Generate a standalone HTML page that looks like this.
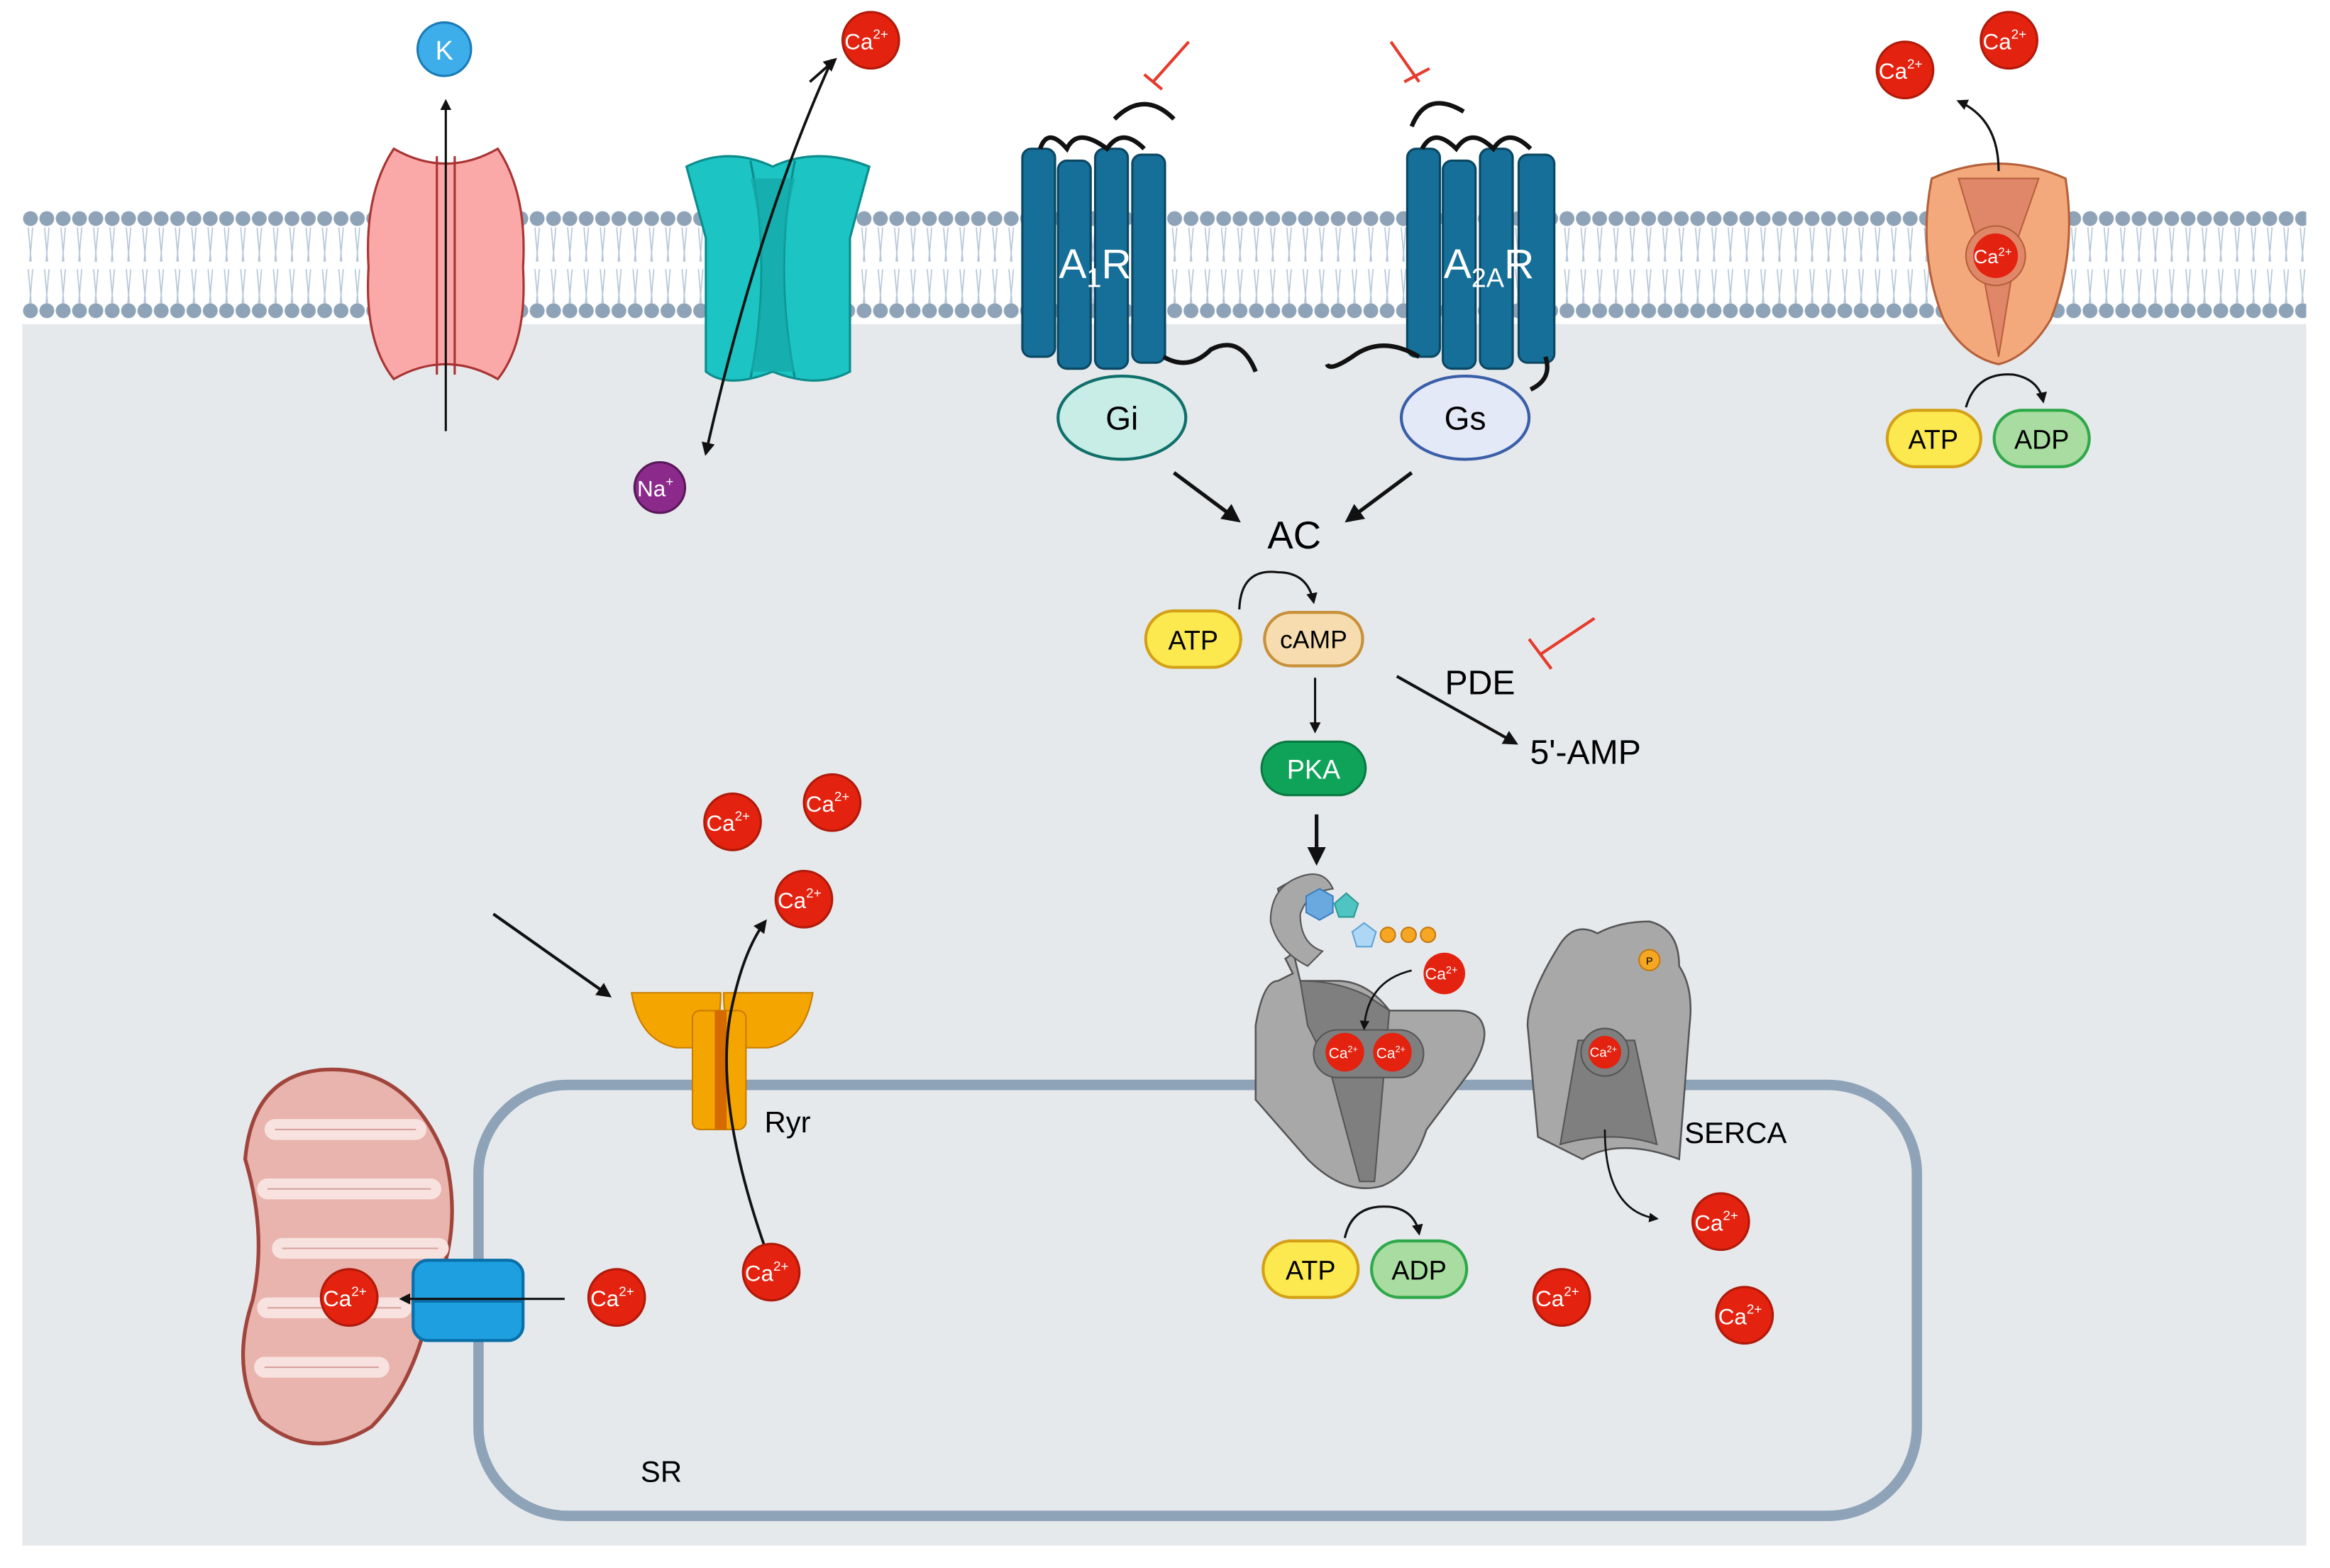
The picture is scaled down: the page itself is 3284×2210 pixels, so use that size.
<!DOCTYPE html>
<html><head><meta charset="utf-8"><style>
html,body{margin:0;padding:0;background:#fff}
svg{display:block}
text{font-family:"Liberation Sans",sans-serif}
</style></head><body>
<svg width="3284" height="2210" viewBox="0 0 1568 1055" xmlns="http://www.w3.org/2000/svg">
<defs>
<pattern id="dots" x="15" y="0" width="11" height="1055" patternUnits="userSpaceOnUse">
<circle cx="5.5" cy="147" r="5" fill="#8fa3b8"/>
<circle cx="5.5" cy="209" r="5" fill="#8fa3b8"/>
<path d="M4 153 L6 176 M7 153 L5 176 M4 181 L6 204 M7 181 L5 204" stroke="#b5c6d8" stroke-width="0.8" fill="none"/>
</pattern>
<marker id="ah" viewBox="0 0 10 10" refX="8" refY="5" markerWidth="5" markerHeight="5" orient="auto"><path d="M0 0 L10 5 L0 10z" fill="#111"/></marker>
<g id="ca"><circle r="19" fill="#e3220f" stroke="#b01a0a" stroke-width="1.5"/><text x="-3" y="6" font-size="15" fill="#fff" text-anchor="middle">Ca<tspan font-size="9" dy="-7">2+</tspan></text></g>
</defs>
<rect x="15" y="140" width="1537" height="900" fill="#e6e9ec"/>
<rect x="15" y="138" width="1537" height="80" fill="#fff"/>
<rect x="15" y="138" width="1537" height="80" fill="url(#dots)"/>

<!-- SR -->
<rect x="322" y="730" width="968" height="290" rx="60" fill="none" stroke="#8fa3b8" stroke-width="7"/>
<text x="445" y="997" font-size="20" text-anchor="middle">SR</text>

<!-- K channel -->
<path d="M265 100 Q300 120 335 100 Q355 130 352 180 Q355 230 335 255 Q300 235 265 255 Q245 230 248 180 Q245 130 265 100z" fill="#fba8a8" stroke="#a33" stroke-width="1.5"/>
<path d="M294 105 V252 M306 105 V252" stroke="#a33" stroke-width="1.5"/>
<line x1="300" y1="290" x2="300" y2="68" stroke="#111" stroke-width="1.5" marker-end="url(#ah)"/>
<circle cx="299" cy="33" r="18" fill="#3daee9" stroke="#1a7ab5" stroke-width="1.5"/>
<text x="299" y="40" font-size="18" fill="#fff" text-anchor="middle">K</text>

<!-- NCX -->
<path d="M462 112 Q490 98 520 112 Q550 98 585 112 L572 160 L572 250 Q550 262 520 250 Q490 262 475 250 L475 160z" fill="#1cc4c4" stroke="#0c8c8c" stroke-width="1.5"/>
<path d="M505 108 Q520 180 505 255 M535 108 Q520 180 535 255" stroke="#0c8c8c" fill="none" stroke-width="1.5"/>
<path d="M505 120 Q520 180 505 250 L535 250 Q520 180 535 120z" fill="#15a9a9" opacity="0.8"/>
<path d="M560 40 Q510 150 475 305" stroke="#111" stroke-width="1.8" fill="none" marker-end="url(#ah)"/>
<path d="M545 55 L562 40" stroke="#111" stroke-width="1.8" marker-end="url(#ah)"/>
<use href="#ca" x="586" y="27"/>
<circle cx="444" cy="328" r="17" fill="#8b2a8b" stroke="#5a185a" stroke-width="1.5"/>
<text x="441" y="334" font-size="15" fill="#fff" text-anchor="middle">Na<tspan font-size="9" dy="-7">+</tspan></text>

<!-- A1R -->
<g fill="#156f99" stroke="#0b4763" stroke-width="1.5">
<rect x="688" y="100" width="22" height="140" rx="6"/>
<rect x="712" y="108" width="22" height="140" rx="6"/>
<rect x="737" y="100" width="22" height="148" rx="6"/>
<rect x="762" y="104" width="22" height="140" rx="6"/>
</g>
<path d="M700 100 Q705 85 718 100 Q725 85 745 100 Q755 85 770 100 M750 80 Q770 60 790 80 M783 240 Q800 250 815 235 Q835 225 845 250" stroke="#111" stroke-width="3" fill="none"/>
<text x="737" y="187" font-size="28" fill="#fff" text-anchor="middle">A<tspan font-size="18" dy="6">1</tspan><tspan dy="-6">R</tspan></text>
<ellipse cx="755" cy="281" rx="43" ry="28" fill="#c8ece6" stroke="#0f6f6a" stroke-width="2"/>
<text x="755" y="289" font-size="22" text-anchor="middle">Gi</text>
<path d="M776 55 L800 28 M770 50 L782 60" stroke="#e53b2c" stroke-width="2"/>

<!-- A2AR -->
<g fill="#156f99" stroke="#0b4763" stroke-width="1.5">
<rect x="947" y="100" width="22" height="140" rx="6"/>
<rect x="971" y="108" width="22" height="140" rx="6"/>
<rect x="996" y="100" width="22" height="148" rx="6"/>
<rect x="1022" y="104" width="24" height="140" rx="6"/>
</g>
<path d="M957 100 Q965 85 980 100 Q990 85 1005 100 Q1015 85 1030 100 M950 85 Q960 60 985 75 M955 240 Q930 225 910 240 Q895 250 893 245 M1040 240 Q1045 255 1030 262" stroke="#111" stroke-width="3" fill="none"/>
<text x="1002" y="187" font-size="28" fill="#fff" text-anchor="middle">A<tspan font-size="18" dy="6">2A</tspan><tspan dy="-6">R</tspan></text>
<ellipse cx="986" cy="281" rx="43" ry="28" fill="#e4e9f8" stroke="#3a5fa8" stroke-width="2"/>
<text x="986" y="289" font-size="22" text-anchor="middle">Gs</text>
<path d="M936 28 L955 55 M945 55 L962 46" stroke="#e53b2c" stroke-width="2"/>

<!-- AC cascade -->
<line x1="790" y1="318" x2="833" y2="350" stroke="#111" stroke-width="2.5" marker-end="url(#ah)"/>
<line x1="950" y1="318" x2="907" y2="350" stroke="#111" stroke-width="2.5" marker-end="url(#ah)"/>
<text x="871" y="369" font-size="26" text-anchor="middle">AC</text>
<rect x="771" y="411" width="64" height="38" rx="19" fill="#fbe94f" stroke="#d4a017" stroke-width="2"/>
<text x="803" y="437" font-size="18" text-anchor="middle">ATP</text>
<rect x="851" y="412" width="66" height="36" rx="18" fill="#f6dcaf" stroke="#c8913a" stroke-width="2"/>
<text x="884" y="436" font-size="17" text-anchor="middle">cAMP</text>
<path d="M834 410 Q835 382 860 385 Q880 385 884 405" stroke="#111" stroke-width="1.5" fill="none" marker-end="url(#ah)"/>
<line x1="885" y1="456" x2="885" y2="492" stroke="#111" stroke-width="1.5" marker-end="url(#ah)"/>
<rect x="849" y="499" width="70" height="36" rx="18" fill="#0fa35a" stroke="#0a7a42" stroke-width="1.5"/>
<text x="884" y="524" font-size="18" fill="#fff" text-anchor="middle">PKA</text>
<line x1="886" y1="548" x2="886" y2="580" stroke="#111" stroke-width="2.5" marker-end="url(#ah)"/>
<line x1="940" y1="455" x2="1020" y2="500" stroke="#111" stroke-width="2" marker-end="url(#ah)"/>
<text x="996" y="467" font-size="23" text-anchor="middle">PDE</text>
<text x="1067" y="514" font-size="23" text-anchor="middle">5'-AMP</text>
<path d="M1073 416 L1037 440 M1029 430 L1044 450" stroke="#e53b2c" stroke-width="2"/>

<!-- PMCA -->
<path d="M1300 120 Q1345 100 1390 120 Q1398 170 1380 215 Q1365 240 1345 245 Q1322 240 1308 215 Q1290 170 1300 120z" fill="#f4a97c" stroke="#b5613a" stroke-width="1.5"/>
<path d="M1318 120 L1330 160 L1345 240 L1358 160 L1372 120z" fill="#e0876a" stroke="#b5613a"/>
<circle cx="1343" cy="172" r="20" fill="#e0876a" stroke="#b5613a"/>
<circle cx="1343" cy="172" r="15" fill="#e3220f"/>
<text x="1341" y="177" font-size="13" fill="#fff" text-anchor="middle">Ca<tspan font-size="8" dy="-5">2+</tspan></text>
<path d="M1345 115 Q1345 80 1318 68" stroke="#111" stroke-width="1.5" fill="none" marker-end="url(#ah)"/>
<use href="#ca" x="1282" y="47"/><use href="#ca" x="1352" y="27"/>
<rect x="1270" y="276" width="63" height="38" rx="19" fill="#fbe94f" stroke="#d4a017" stroke-width="2"/>
<text x="1301" y="302" font-size="18" text-anchor="middle">ATP</text>
<rect x="1342" y="276" width="64" height="38" rx="19" fill="#a8dca0" stroke="#2fa84a" stroke-width="2"/>
<text x="1374" y="302" font-size="18" text-anchor="middle">ADP</text>
<path d="M1323 274 Q1330 250 1355 252 Q1372 255 1375 270" stroke="#111" stroke-width="1.5" fill="none" marker-end="url(#ah)"/>

<!-- SERCA 1 -->
<path d="M860 598 Q880 585 885 600 Q870 605 870 620 Q875 640 865 645 L870 655 L860 660 Q850 660 845 690 L845 740 L880 780 Q905 805 930 798 Q950 790 960 760 L990 720 Q1002 700 998 690 Q995 680 980 680 L935 680 Q920 660 900 660 L875 660 Z" fill="#a8a8a8" stroke="#555" stroke-width="1.2"/>
<path d="M870 592 Q890 582 897 598 Q880 600 875 615 Q875 635 890 640 L880 650 Q860 640 855 620 Q855 600 870 592z" fill="#a8a8a8" stroke="#555"/>
<path d="M875 660 Q900 660 920 670 L935 680 L925 795 L915 795 L895 720 L880 690z" fill="#7f7f7f" stroke="#555"/>
<rect x="884" y="693" width="74" height="32" rx="16" fill="#7f7f7f" stroke="#555"/>
<g><circle cx="905" cy="708" r="13" fill="#e3220f"/><text x="904" y="712" font-size="10" fill="#fff" text-anchor="middle">Ca<tspan font-size="6" dy="-4">2+</tspan></text></g>
<g><circle cx="937" cy="708" r="13" fill="#e3220f"/><text x="936" y="712" font-size="10" fill="#fff" text-anchor="middle">Ca<tspan font-size="6" dy="-4">2+</tspan></text></g>
<polygon points="888,598 897,603 897,614 888,619 879,614 879,603" fill="#6aa9e0" stroke="#3d80c0"/>
<polygon points="906,601 914,608 911,617 901,617 898,608" fill="#4fc4c0" stroke="#2a9a96"/>
<polygon points="918,621 926,627 923,637 913,637 910,627" fill="#aed6f5" stroke="#5fa5d8"/>
<circle cx="934" cy="629" r="5" fill="#f5a623" stroke="#c47a10"/><circle cx="948" cy="629" r="5" fill="#f5a623" stroke="#c47a10"/><circle cx="961" cy="629" r="5" fill="#f5a623" stroke="#c47a10"/>
<g transform="translate(972,655)"><circle r="14" fill="#e3220f"/><text x="-2" y="4" font-size="11" fill="#fff" text-anchor="middle">Ca<tspan font-size="7" dy="-4">2+</tspan></text></g>
<path d="M950 653 Q920 660 918 692" stroke="#111" stroke-width="1.3" fill="none" marker-end="url(#ah)"/>
<rect x="850" y="835" width="64" height="38" rx="19" fill="#fbe94f" stroke="#d4a017" stroke-width="2"/>
<text x="882" y="861" font-size="18" text-anchor="middle">ATP</text>
<rect x="923" y="835" width="64" height="38" rx="19" fill="#a8dca0" stroke="#2fa84a" stroke-width="2"/>
<text x="955" y="861" font-size="18" text-anchor="middle">ADP</text>
<path d="M905 833 Q910 810 935 812 Q952 814 955 830" stroke="#111" stroke-width="1.5" fill="none" marker-end="url(#ah)"/>

<!-- SERCA 2 -->
<path d="M1050 635 Q1060 620 1075 628 Q1090 620 1110 620 Q1130 625 1130 650 Q1140 665 1137 690 L1130 780 Q1090 765 1065 780 L1035 765 L1028 690 Q1028 670 1050 635z" fill="#a8a8a8" stroke="#555" stroke-width="1.2"/>
<path d="M1062 700 L1100 700 L1115 770 Q1085 760 1050 770z" fill="#7f7f7f" stroke="#555"/>
<circle cx="1080" cy="708" r="16" fill="#7f7f7f" stroke="#555"/>
<g transform="translate(1080,708)"><circle r="11" fill="#e3220f"/><text x="-1" y="3" font-size="9" fill="#fff" text-anchor="middle">Ca<tspan font-size="6" dy="-3">2+</tspan></text></g>
<circle cx="1110" cy="646" r="7" fill="#f5a623" stroke="#c47a10"/><text x="1110" y="649" font-size="7" text-anchor="middle">P</text>
<path d="M1080 760 Q1080 815 1115 820" stroke="#111" stroke-width="1.3" fill="none" marker-end="url(#ah)"/>
<text x="1168" y="769" font-size="20" text-anchor="middle">SERCA</text>
<use href="#ca" x="1158" y="822"/><use href="#ca" x="1051" y="873"/><use href="#ca" x="1174" y="885"/>

<!-- RyR -->
<path d="M425 668 L485 668 Q485 700 470 705 L455 705 Q430 700 425 668z" fill="#f5a500" stroke="#c77d00"/>
<path d="M487 668 L547 668 Q542 700 517 705 L502 705 Q487 700 487 668z" fill="#f5a500" stroke="#c77d00"/>
<rect x="466" y="680" width="36" height="80" rx="5" fill="#f5a500" stroke="#c77d00"/>
<rect x="481" y="680" width="8" height="80" fill="#d46a00"/>
<line x1="332" y1="615" x2="410" y2="670" stroke="#111" stroke-width="2" marker-end="url(#ah)"/>
<path d="M515 840 Q480 740 492 680 Q500 640 515 620" stroke="#111" stroke-width="1.8" fill="none" marker-end="url(#ah)"/>
<text x="530" y="762" font-size="20" text-anchor="middle">Ryr</text>
<use href="#ca" x="493" y="553"/><use href="#ca" x="560" y="540"/><use href="#ca" x="541" y="605"/><use href="#ca" x="519" y="856"/>

<!-- Mitochondrion -->
<path d="M215 720 Q275 715 300 780 Q312 830 290 875 Q280 930 250 960 Q210 985 175 955 Q155 920 170 875 Q180 830 165 780 Q170 725 215 720z" fill="#e8b4ad" stroke="#a0443c" stroke-width="2.5"/>
<path d="M185 760 H280 M180 800 H290 M190 840 H295 M180 880 H270 M178 920 H255" stroke="#f8e2df" stroke-width="14" stroke-linecap="round" fill="none"/>
<path d="M185 760 H280 M180 800 H290 M190 840 H295 M180 880 H270 M178 920 H255" stroke="#a0443c" stroke-width="1" fill="none" opacity="0.4"/>
<rect x="278" y="848" width="74" height="54" rx="10" fill="#1e9fe0" stroke="#0a6fa8" stroke-width="2"/>
<line x1="278" y1="875" x2="352" y2="875" stroke="#0a6fa8" stroke-width="3"/>
<line x1="380" y1="874" x2="270" y2="874" stroke="#111" stroke-width="1.5" marker-end="url(#ah)"/>
<use href="#ca" x="235" y="873"/><use href="#ca" x="415" y="873"/>
</svg>
</body></html>
